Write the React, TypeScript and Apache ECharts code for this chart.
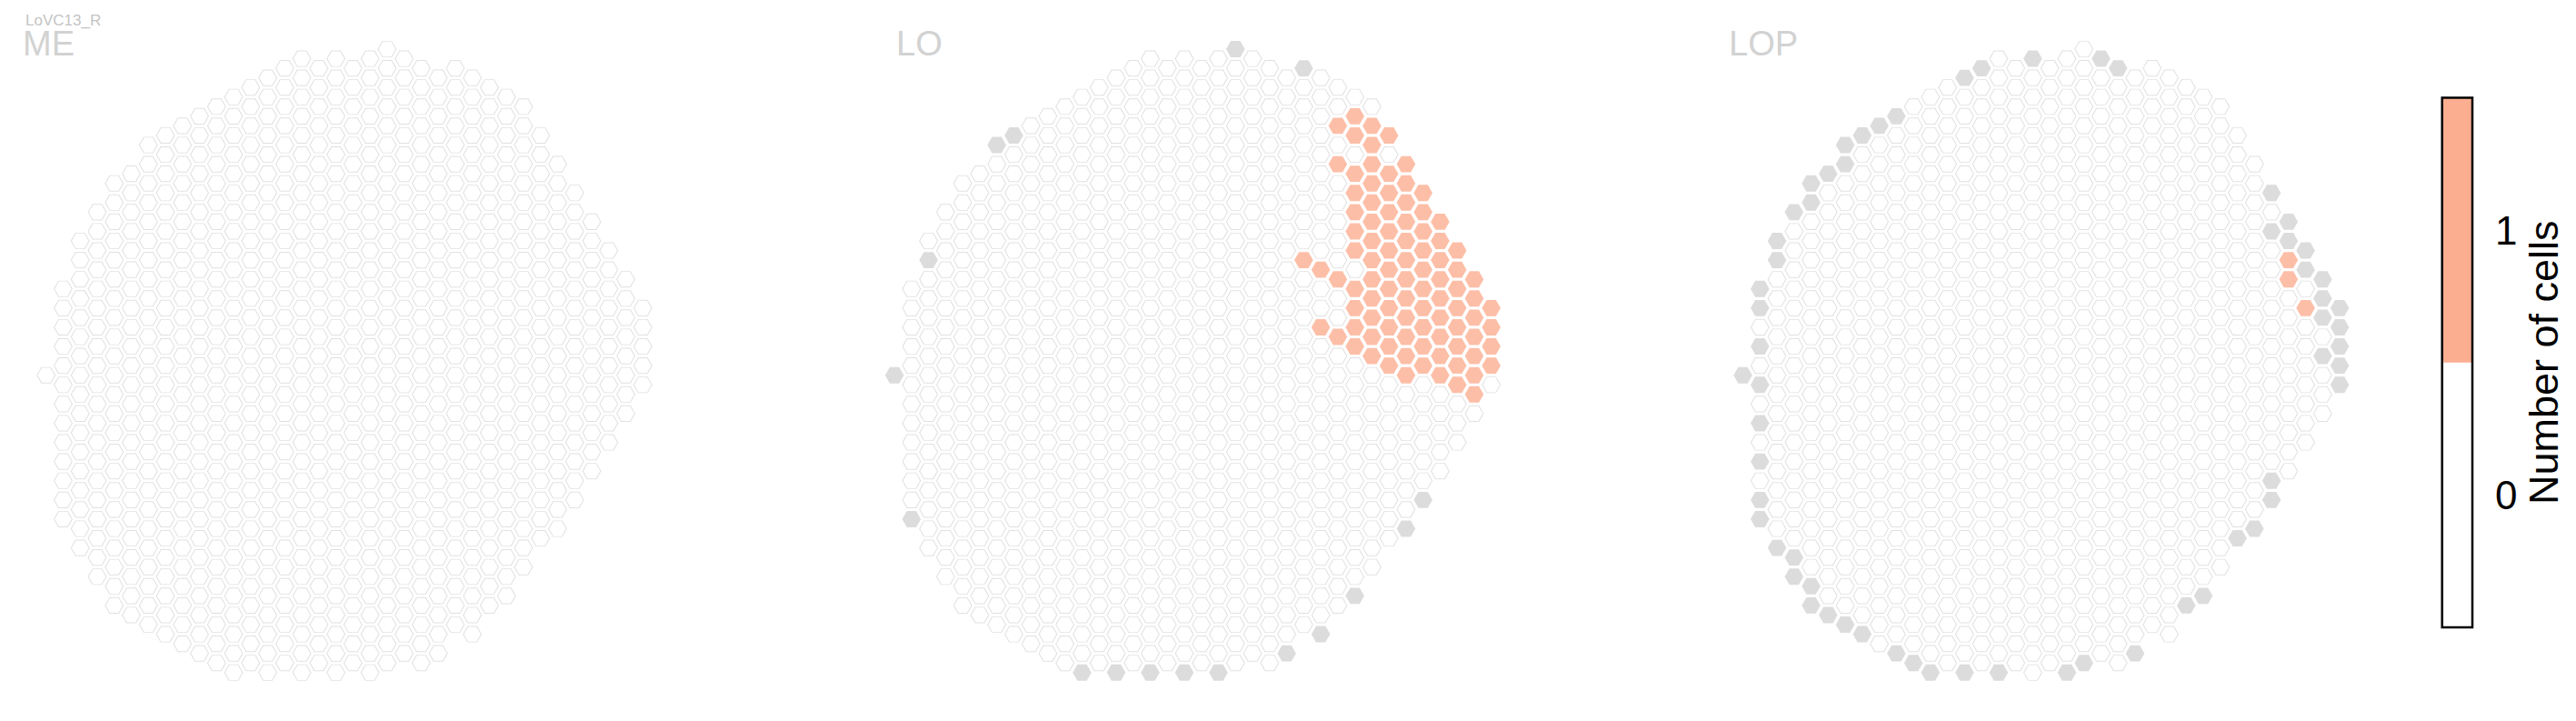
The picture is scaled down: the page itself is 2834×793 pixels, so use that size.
import React, { useEffect, useRef } from "react";
import * as echarts from "echarts";

// ---- data ----
const panelNames = ["ME", "LO", "LOP"];
const cellTypeLabel = "LoVC13_R";

// hexagonal column grid: column index, first and last row (rows step by 2)
const columnIds = [0, 1, 2, 3, 4, 5, 6, 7, 8, 9, 10, 11, 12, 13, 14, 15, 16, 17, 18, 19, 20, 21, 22, 23, 24, 25, 26, 27, 28, 29, 30, 31, 32, 33, 34, 35];
const columnTop = [0, -9, -14, -17, -20, -21, -24, -25, -26, -27, -28, -29, -30, -31, -32, -33, -32, -33, -32, -33, -34, -33, -32, -31, -32, -31, -30, -29, -28, -25, -22, -19, -16, -13, -10, -7];
const columnBottom = [0, 15, 18, 21, 24, 25, 26, 27, 28, 29, 30, 31, 30, 31, 30, 31, 30, 31, 30, 31, 30, 29, 30, 29, 26, 27, 24, 23, 20, 17, 16, 13, 10, 7, 4, 1];

// cells holding 1 neuron, per panel (column -> rows)
const meOneCols: number[] = [];
const meOneRows: number[][] = [];
const loOneCols = [24, 25, 26, 27, 28, 29, 30, 31, 32, 33, 34, 35];
const loOneRows = [
  [-12],
  [-11, -5],
  [-26, -22, -10, -4],
  [-27, -25, -21, -19, -17, -15, -13, -9, -7, -5, -3],
  [-26, -24, -22, -20, -18, -16, -14, -12, -10, -8, -6, -4, -2],
  [-25, -21, -19, -17, -15, -13, -11, -9, -7, -5, -3, -1],
  [-22, -20, -18, -16, -14, -12, -10, -8, -6, -4, -2, 0],
  [-19, -17, -15, -13, -11, -9, -7, -5, -3, -1],
  [-16, -14, -12, -10, -8, -6, -4, -2, 0],
  [-13, -11, -9, -7, -5, -3, -1, 1],
  [-10, -8, -6, -4, -2, 0, 2],
  [-7, -5, -3, -1],
];
const lopOneCols = [32, 33];
const lopOneRows = [[-12, -10], [-7]];

// columns missing in a neuropil (grey)
const meGreyCells: number[][] = [];
const loGreyCells = [
  [0, 0], [2, -12], [6, -24], [7, -25], [20, -34], [24, -32], [1, 15],
  [11, 31], [13, 31], [15, 31], [17, 31], [19, 31], [23, 29], [25, 27],
  [27, 23], [30, 16], [31, 13],
];
const lopGreyCells = [
  [0, 0], [1, -9], [1, -7], [1, -3], [1, 1], [1, 5], [1, 9], [1, 13], [1, 15],
  [2, -14], [2, -12], [3, -17], [4, -20], [4, -18], [5, -21], [6, -24], [6, -22],
  [7, -25], [8, -26], [9, -27], [13, -31], [14, -32], [17, -33], [21, -33], [22, -32],
  [2, 18], [3, 21], [3, 19], [4, 24], [4, 22], [5, 25], [6, 26], [7, 27], [9, 29],
  [10, 30], [11, 31], [13, 31], [15, 31], [19, 31], [20, 30], [23, 29],
  [26, 24], [27, 23], [29, 17], [30, 16], [31, 13], [31, 11],
  [31, -19], [31, -15], [32, -16], [32, -14], [33, -13], [33, -11],
  [34, -10], [34, -8], [34, -6], [34, -2], [35, -7], [35, -5], [35, -3], [35, -1], [35, 1],
];

const legendValues = [0, 1];
const legendColors = ["#ffffff", "#fcae91"];
const legendTitle = "Number of cells";

// ---- styles ----
const FONT = "Liberation Sans, Arial, sans-serif";
const HEX = "path://M0,8.66 L5,0 L15,0 L20,8.66 L15,17.32 L5,17.32 Z";
const GREY = "#d3d3d3";
const EDGE = "#d9d9d9";
const panelLeft = [31.91, 965.31, 1898.71];
const panelWidth = 694.1;
const panelTop = 32.9;
const panelHeight = 727.95;
const titleX = [25, 986, 1902];

function gridCells(): number[][] {
  const out: number[][] = [];
  columnIds.forEach((c, i) => {
    for (let r = columnTop[i]; r <= columnBottom[i]; r += 2) out.push([c, r]);
  });
  return out;
}

function flatten(cols: number[], rows: number[][]): number[][] {
  const out: number[][] = [];
  cols.forEach((c, i) => rows[i].forEach((r) => out.push([c, r])));
  return out;
}

export default function App() {
  const ref = useRef<HTMLDivElement>(null);

  useEffect(() => {
    if (!ref.current) return;
    const chart = echarts.init(ref.current, undefined, { renderer: "svg" });
    const cells = gridCells();
    const oneSets = [
      flatten(meOneCols, meOneRows),
      flatten(loOneCols, loOneRows),
      flatten(lopOneCols, lopOneRows),
    ];
    const greySets = [meGreyCells, loGreyCells, lopGreyCells];

    const grids: any[] = [];
    const xAxes: any[] = [];
    const yAxes: any[] = [];
    const series: any[] = [];

    panelNames.forEach((_, p) => {
      grids.push({ left: panelLeft[p], top: panelTop, width: panelWidth, height: panelHeight });
      xAxes.push({ gridIndex: p, type: "value", min: -1, max: 36, show: false });
      yAxes.push({ gridIndex: p, type: "value", min: -36, max: 33, inverse: true, show: false });
      const key = (a: number[]) => a[0] + "," + a[1];
      const oneKeys = new Set(oneSets[p].map(key));
      const greyKeys = new Set(greySets[p].map(key));
      const white = cells.filter((c) => !oneKeys.has(key(c)) && !greyKeys.has(key(c)));
      const base = {
        type: "scatter",
        xAxisIndex: p,
        yAxisIndex: p,
        symbol: HEX,
        silent: true,
        emphasis: { disabled: true },
      };
      series.push({
        ...base,
        data: white,
        symbolSize: [19.8, 17.2],
        itemStyle: { color: "#ffffff", borderColor: EDGE, borderWidth: 1 },
      });
      series.push({
        ...base,
        data: greySets[p],
        symbolSize: [20.6, 17.9],
        itemStyle: { color: GREY },
      });
      series.push({
        ...base,
        data: oneSets[p],
        symbolSize: [20.6, 17.9],
        itemStyle: { color: legendColors[1] },
      });
    });

    // colour bar
    grids.push({ left: 2686.7, top: 107.5, width: 33.3, height: 582.5 });
    xAxes.push({ gridIndex: 3, type: "value", min: -0.5, max: 0.5, show: false });
    yAxes.push({
      gridIndex: 3,
      type: "value",
      min: -0.5,
      max: 1.5,
      position: "right",
      axisLine: { show: false },
      splitLine: { show: false },
      axisTick: { show: true, length: 15, customValues: legendValues, lineStyle: { color: "#000", width: 2.5 } },
      axisLabel: { customValues: legendValues, fontSize: 44, color: "#000", fontFamily: FONT, margin: 25 },
      name: legendTitle,
      nameLocation: "middle",
      nameRotate: 90,
      nameGap: 56,
      nameTextStyle: { fontSize: 45, color: "#000", fontFamily: FONT },
    });
    series.push({
      type: "custom",
      xAxisIndex: 3,
      yAxisIndex: 3,
      silent: true,
      data: legendValues.map((v, i) => [v - 0.5, v + 0.5, i]),
      renderItem: (_params: any, api: any) => {
        const p0 = api.coord([-0.5, api.value(1)]);
        const p1 = api.coord([0.5, api.value(0)]);
        return {
          type: "rect",
          shape: { x: p0[0], y: p0[1], width: p1[0] - p0[0], height: p1[1] - p0[1] },
          style: { fill: legendColors[api.value(2)] },
        };
      },
    });
    series.push({
      type: "custom",
      xAxisIndex: 3,
      yAxisIndex: 3,
      silent: true,
      z: 5,
      data: [[-0.5, 1.5]],
      renderItem: (_params: any, api: any) => {
        const p0 = api.coord([-0.5, api.value(1)]);
        const p1 = api.coord([0.5, api.value(0)]);
        return {
          type: "rect",
          shape: { x: p0[0], y: p0[1], width: p1[0] - p0[0], height: p1[1] - p0[1] },
          style: { fill: "none", stroke: "#000", lineWidth: 2.5 },
        };
      },
    });

    const graphic: any[] = panelNames.map((name, p) => ({
      type: "text",
      x: titleX[p],
      y: 48,
      silent: true,
      style: { text: name, fontSize: 38, fill: "#d2d2d2", fontFamily: FONT, verticalAlign: "middle", align: "left" },
    }));
    graphic.push({
      type: "text",
      x: 28,
      y: 22,
      silent: true,
      style: { text: cellTypeLabel, fontSize: 17, fill: "#c4c4c4", fontFamily: FONT, verticalAlign: "middle", align: "left" },
    });

    chart.setOption({
      animation: false,
      backgroundColor: "#ffffff",
      grid: grids,
      xAxis: xAxes,
      yAxis: yAxes,
      series,
      graphic,
    });
    return () => chart.dispose();
  }, []);

  return (
    <div
      ref={ref}
      style={{ position: "fixed", left: 0, top: 0, width: 2834, height: 793, background: "#fff" }}
    />
  );
}
